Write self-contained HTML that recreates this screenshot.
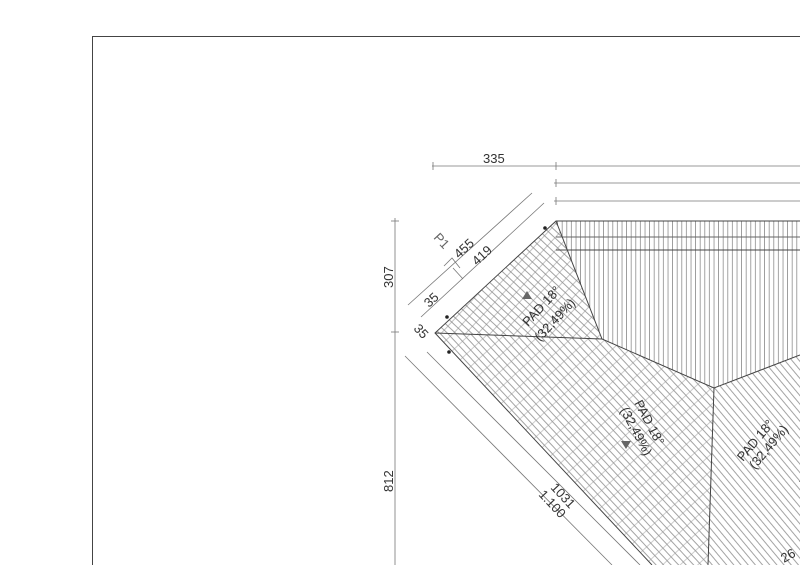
<!DOCTYPE html>
<html><head><style>html,body{margin:0;background:#fff;overflow:hidden;width:800px;height:565px}svg{display:block}</style></head><body>
<svg width="800" height="565" viewBox="0 0 800 565" xmlns="http://www.w3.org/2000/svg" font-family="Liberation Sans, sans-serif">
<defs>
<pattern id="pv" width="4.6" height="10" patternUnits="userSpaceOnUse"><line x1="1" y1="0" x2="1" y2="10" stroke="#666" stroke-width="0.6"/></pattern>
<pattern id="pa" width="5.5" height="10" patternUnits="userSpaceOnUse" patternTransform="rotate(-47)"><line x1="1" y1="0" x2="1" y2="10" stroke="#666" stroke-width="0.6"/></pattern>
<pattern id="pa2" width="10" height="9" patternUnits="userSpaceOnUse" patternTransform="rotate(-47)"><line x1="0" y1="1" x2="10" y2="1" stroke="#888" stroke-width="0.5"/></pattern>
<pattern id="pc" width="5.5" height="10" patternUnits="userSpaceOnUse" patternTransform="rotate(-43)"><line x1="1" y1="0" x2="1" y2="10" stroke="#666" stroke-width="0.6"/></pattern>
<pattern id="pc2" width="10" height="12" patternUnits="userSpaceOnUse" patternTransform="rotate(-43)"><line x1="0" y1="1" x2="10" y2="1" stroke="#999" stroke-width="0.5"/></pattern>
<pattern id="pd" width="5.5" height="10" patternUnits="userSpaceOnUse" patternTransform="rotate(-40)"><line x1="1" y1="0" x2="1" y2="10" stroke="#666" stroke-width="0.6"/></pattern>
</defs>
<polyline points="800,36.5 92.5,36.5 92.5,565" fill="none" stroke="#444" stroke-width="1"/>
<polygon points="556,221 800,221 800,355 714,388 602,339" fill="url(#pv)"/>
<polygon points="435,333 556,221 602,339" fill="url(#pa)"/>
<polygon points="435,333 556,221 602,339" fill="url(#pa2)"/>
<polygon points="435,333 602,339 714,388 708,565 652,565" fill="url(#pc)"/>
<polygon points="435,333 602,339 714,388 708,565 652,565" fill="url(#pc2)"/>
<polygon points="714,388 800,355 800,565 708,565" fill="url(#pd)"/>
<g stroke="#444" stroke-width="1" fill="none">
<polyline points="800,221 556,221 435,333 652,565"/>
<line x1="556" y1="237" x2="800" y2="237" stroke="#666"/>
<line x1="556" y1="250" x2="800" y2="250"/>
<polyline points="556,221 602,339 714,388 800,355"/>
<line x1="435" y1="333" x2="602" y2="339"/>
<line x1="714" y1="388" x2="708" y2="565"/>
</g>
<g stroke="#777" stroke-width="0.8" fill="none">
<line x1="432" y1="166" x2="800" y2="166"/>
<line x1="554" y1="183" x2="800" y2="183"/>
<line x1="554" y1="201" x2="800" y2="201"/>
<line x1="395" y1="218" x2="395" y2="565"/>
<line x1="408" y1="305" x2="532" y2="193"/>
<line x1="421" y1="317" x2="544" y2="203"/>
<line x1="405" y1="356" x2="612" y2="565"/>
<line x1="427" y1="352" x2="640" y2="565"/>
<polyline points="444,266 452,258 460,268"/>
<line x1="453" y1="268" x2="463" y2="279"/>
</g>
<g stroke="#777" stroke-width="0.8">
<line x1="433" y1="162" x2="433" y2="170"/><line x1="556" y1="162" x2="556" y2="170"/>
<line x1="556" y1="179" x2="556" y2="187"/><line x1="556" y1="197" x2="556" y2="205"/>
<line x1="391" y1="221" x2="399" y2="221"/><line x1="391" y1="332" x2="399" y2="332"/>
</g>
<g fill="#222"><circle cx="545" cy="228" r="1.8"/><circle cx="447" cy="317" r="1.8"/><circle cx="449" cy="352" r="1.8"/></g>
<g fill="#666"><polygon points="527,291 522,299 532,299"/><polygon points="621,441 631,441 626,449"/><polygon points="805,474 799,482 809,482"/></g>
<g font-size="13" fill="#333">
<text x="483" y="163">335</text>
<text transform="translate(393,288) rotate(-90)">307</text>
<text transform="translate(393,492) rotate(-90)">812</text>
<text transform="translate(433,238) rotate(47)" fill="#666">P1</text>
<text transform="translate(459,259) rotate(-43)">455</text>
<text transform="translate(477,266) rotate(-43)">419</text>
<text transform="translate(429,308) rotate(-43)">35</text>
<text transform="translate(413,329) rotate(47)">35</text>
<text transform="translate(528,327) rotate(-47)">PAD 18°</text>
<text transform="translate(540,342) rotate(-47)">(32,49%)</text>
<text transform="translate(634,403) rotate(62)">PAD 18°</text>
<text transform="translate(620,410) rotate(62)">(32,49%)</text>
<text transform="translate(743,462) rotate(-50)">PAD 18°</text>
<text transform="translate(755,470) rotate(-50)">(32,49%)</text>
<text transform="translate(550,488) rotate(47)">1031</text>
<text transform="translate(538,495) rotate(47)">1.100</text>
<text transform="translate(784,563) rotate(-30)">26</text>
</g>
</svg>
</body></html>
